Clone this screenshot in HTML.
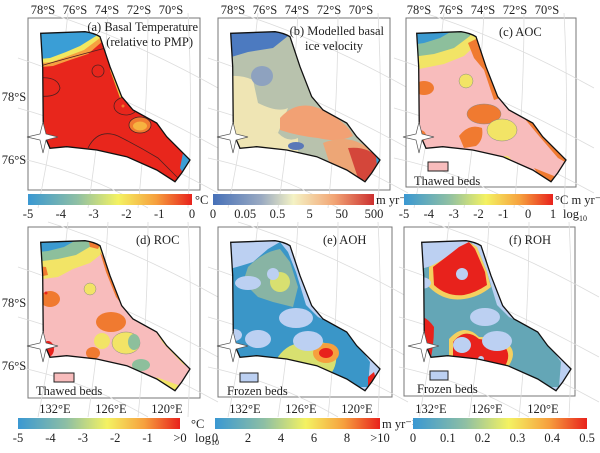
<!DOCTYPE html>
<html><head><meta charset="utf-8"><style>
html,body{margin:0;padding:0;background:#fff;}
svg, svg text, svg tspan{font-family:"Liberation Serif","DejaVu Serif",serif !important;}
svg text{fill:#222;}
</style></head><body>
<svg id="fig" width="600" height="448" viewBox="0 0 600 448" xmlns="http://www.w3.org/2000/svg" font-family="Liberation Serif, serif">
<defs>
<path id="shape" d="M12.7,15.3 L57,13.7 Q66,15 72,18.7 L82,48.7 L93.7,78.7 L105,92 L128.7,105 L138.7,118.7 L158.7,138.7 L162,142 L153.7,155 L147,163.7 L128.7,152 L98.7,138.7 L68.7,132 L38.7,128.7 L22,130.3 L15.3,115 L14.7,48.7 Z"/>
<clipPath id="cl" clipPathUnits="userSpaceOnUse"><use href="#shape"/></clipPath>
<linearGradient id="gStd" x1="0" x2="1" y1="0" y2="0">
<stop offset="0" stop-color="#3a98d2"/><stop offset="0.3" stop-color="#8ebfa4"/><stop offset="0.55" stop-color="#f4f262"/><stop offset="0.78" stop-color="#f6a03e"/><stop offset="1" stop-color="#e8221c"/></linearGradient>
<linearGradient id="gVel" x1="0" x2="1" y1="0" y2="0">
<stop offset="0" stop-color="#4670b8"/><stop offset="0.3" stop-color="#9aaac2"/><stop offset="0.5" stop-color="#f4f2c4"/><stop offset="0.75" stop-color="#f2a676"/><stop offset="1" stop-color="#cc3030"/></linearGradient>
<g id="grat" stroke="#dcdcdc" stroke-width="0.8" fill="none">
<path d="M-10,40 Q80,70 190,130"/><path d="M-10,90 Q80,115 190,175"/><path d="M-10,140 Q60,155 120,190"/><path d="M20,-5 Q100,20 190,70"/>
<path d="M40,-5 Q30,90 10,190"/><path d="M80,-5 Q75,90 60,190"/><path d="M120,-5 Q120,90 110,190"/><path d="M160,-5 Q165,90 160,190"/>
</g>
</defs>

<!-- Panel a -->
<g transform="translate(28,18)">
<rect x="0" y="0" width="172" height="172" fill="#fff" stroke="#777" stroke-width="1"/>
<use href="#grat"/>
<g clip-path="url(#cl)">
<rect x="0" y="0" width="172" height="172" fill="#e8261c"/>
<path d="M0,0 L80,0 L76,22 L60,36 L42,42 L25,48 L0,50Z" fill="#f6a040"/>
<path d="M0,0 L78,0 L72,20 L56,32 L40,38 L24,44 L0,46Z" fill="#f2e860"/>
<path d="M0,0 L75,0 L68,18 L52,28 L38,34 L22,40 L0,42Z" fill="#3a9ed6"/>
<path d="M84,48 L96,80 L92,80 L82,52Z" fill="#f2c040"/>
<path d="M155,135 L165,142 L158,160 L152,150Z" fill="#3a9ed6"/>
<ellipse cx="112" cy="107" rx="11" ry="8" fill="#f07a30" stroke="#502020" stroke-width="0.8"/>
<ellipse cx="112" cy="108" rx="7" ry="4.5" fill="#f6b240"/>
<ellipse cx="98" cy="88" rx="12" ry="9" fill="none" stroke="#502020" stroke-width="0.8"/>
<circle cx="95" cy="88" r="1.5" fill="#f07a30"/>
<ellipse cx="70" cy="53" rx="6" ry="6" fill="none" stroke="#502020" stroke-width="0.8"/>
<path d="M10,60 Q30,58 32,70 Q30,80 10,78" fill="none" stroke="#502020" stroke-width="0.8"/>
<path d="M12,48 Q40,40 70,32 L86,28 Q90,55 95,80 Q110,92 135,110 L150,130" fill="none" stroke="#502020" stroke-width="0.8"/>
<path d="M60,130 Q70,110 90,118 Q110,128 130,140 Q140,150 150,160" fill="none" stroke="#502020" stroke-width="0.8"/>
</g>
<use href="#shape" fill="none" stroke="#111" stroke-width="1.3"/>
<path d="M-1,119 L12,116 L15,104 L18,116 L30,119 L18,122 L15,135 L12,122Z" fill="#fff" stroke="#555" stroke-width="0.7"/>
<text x="170" y="13" text-anchor="end" font-size="12.5">(a) Basal Temperature</text>
<text x="165" y="28" text-anchor="end" font-size="12.5">(relative to PMP)</text>
</g>

<!-- Panel b -->
<g transform="translate(218,18)">
<rect x="0" y="0" width="172" height="172" fill="#fff" stroke="#777" stroke-width="1"/>
<use href="#grat"/>
<g clip-path="url(#cl)">
<rect x="0" y="0" width="172" height="172" fill="#b8c2ad"/>
<path d="M0,60 Q20,55 35,62 L40,85 Q60,95 70,90 L60,115 Q40,112 20,120 L0,140Z" fill="#efe5b4"/>
<path d="M20,120 Q40,110 60,115 Q70,125 80,120 L80,172 L0,172Z" fill="#efe5b4"/>
<path d="M0,0 L72,0 L70,18 L55,30 L30,34 L10,40 L0,40Z" fill="#4c7ac0"/>
<ellipse cx="44" cy="58" rx="11" ry="10" fill="#8ea2bf"/>
<path d="M62,100 Q80,80 105,92 Q130,105 135,118 Q120,125 100,120 Q80,118 62,112Z" fill="#f2a174"/>
<ellipse cx="78" cy="128" rx="8" ry="4" fill="#5a78b8"/>
<path d="M105,125 Q130,115 150,130 L170,172 L120,172Z" fill="#eda676"/>
<path d="M130,130 Q150,128 160,140 L155,165 L140,160Z" fill="#d4463a"/>
<path d="M158,138 L166,144 L160,160Z" fill="#3a9ed6"/>
</g>
<use href="#shape" fill="none" stroke="#111" stroke-width="1.3"/>
<path d="M-1,119 L12,116 L15,104 L18,116 L30,119 L18,122 L15,135 L12,122Z" fill="#fff" stroke="#555" stroke-width="0.7"/>
<text x="166" y="17" text-anchor="end" font-size="12.5">(b) Modelled basal</text>
<text x="145" y="32" text-anchor="end" font-size="12.5">ice velocity</text>
</g>

<!-- Panel c -->
<g transform="translate(404,18)">
<rect x="2" y="0" width="170" height="169" fill="#fff" stroke="#777" stroke-width="1"/>
<use href="#grat"/>
<g clip-path="url(#cl)">
<rect x="0" y="0" width="172" height="172" fill="#f8bcbc"/>
<path d="M0,0 L78,0 L74,25 L60,38 L40,46 L20,50 L0,54Z" fill="#f2e466"/>
<path d="M0,0 L72,0 L66,18 L50,30 L30,36 L0,40Z" fill="#8dbf9c"/>
<path d="M0,0 L55,0 L50,12 L36,20 L20,25 L0,28Z" fill="#3b9ad0"/>
<path d="M64,25 L74,20 L86,50 L96,80 L90,82 L80,52 L70,40Z" fill="#f07a30"/>
<path d="M78,22 L84,20 L95,55 L100,78 L96,80 L86,50Z" fill="#f2e466"/>
<circle cx="62" cy="63" r="7" fill="#f2e466" stroke="#888" stroke-width="0.5"/>
<ellipse cx="20" cy="70" rx="10" ry="7" fill="#f07a30"/>
<ellipse cx="80" cy="96" rx="17" ry="10" fill="#f07a30" stroke="#888" stroke-width="0.5"/>
<ellipse cx="98" cy="112" rx="15" ry="11" fill="#f2e466" stroke="#888" stroke-width="0.5"/>
<path d="M55,118 Q65,105 78,110 Q80,122 72,128 L60,130Z" fill="#f07a30"/>
<circle cx="16" cy="118" r="6" fill="#f07a30"/>
<path d="M120,100 L140,110 L160,135 L163,145 L154,140 L135,118Z" fill="#f07a30"/>
<path d="M130,150 L150,158 L155,165 L140,165Z" fill="#f07a30"/>
<circle cx="102" cy="143" r="5" fill="#f2e466"/>
</g>
<use href="#shape" fill="none" stroke="#111" stroke-width="1.3"/>
<path d="M-1,119 L12,116 L15,104 L18,116 L30,119 L18,122 L15,135 L12,122Z" fill="#fff" stroke="#555" stroke-width="0.7"/>
<text x="95" y="18" font-size="12.5">(c) AOC</text>
<rect x="24" y="144" width="20" height="9" fill="#f8bcbc" stroke="#222" stroke-width="1"/>
<text x="10" y="167" font-size="12.5">Thawed  beds</text>
</g>

<!-- Panel d -->
<g transform="translate(28,227)">
<rect x="0" y="0" width="172" height="171" fill="#fff" stroke="#777" stroke-width="1"/>
<use href="#grat"/>
<g clip-path="url(#cl)">
<rect x="0" y="0" width="172" height="172" fill="#f8bcbc"/>
<path d="M0,0 L80,0 L76,25 L62,36 L45,42 L30,50 L0,54Z" fill="#f2e466"/>
<path d="M0,0 L72,0 L65,18 L48,28 L30,32 L0,36Z" fill="#8dbf9c"/>
<path d="M0,0 L55,0 L50,12 L36,20 L20,24 L0,26Z" fill="#3b9ad0"/>
<path d="M60,10 L75,12 L70,22 L62,20Z" fill="#f07a30"/>
<path d="M0,38 L18,40 L20,48 L0,52Z" fill="#f07a30"/>
<path d="M72,25 L82,40 L95,75 L110,90 L102,88 L88,70 L78,45Z" fill="#f07a30"/>
<path d="M80,25 L86,45 L98,75 L104,82 L96,80 L84,50Z" fill="#f2e466"/>
<circle cx="62" cy="62" r="6" fill="#f2e466" stroke="#888" stroke-width="0.5"/>
<ellipse cx="22" cy="72" rx="10" ry="8" fill="#f07a30"/>
<circle cx="18" cy="66" r="1.5" fill="#e8221c"/>
<ellipse cx="83" cy="95" rx="15" ry="10" fill="#f07a30"/>
<ellipse cx="98" cy="116" rx="14" ry="11" fill="#f2e466" stroke="#888" stroke-width="0.5"/>
<ellipse cx="106" cy="115" rx="6" ry="8" fill="#8dbf9c"/>
<ellipse cx="74" cy="114" rx="8" ry="8" fill="#f2e466"/>
<ellipse cx="65" cy="126" rx="7" ry="6" fill="#f07a30"/>
<ellipse cx="20" cy="122" rx="6" ry="8" fill="#e8221c"/>
<ellipse cx="113" cy="138" rx="9" ry="6" fill="#8dbf9c"/>
<path d="M125,100 L140,110 L160,135 L156,138 L135,116Z" fill="#f2e466"/>
<path d="M128,150 L150,158 L155,165 L140,165Z" fill="#f2e466"/>
</g>
<use href="#shape" fill="none" stroke="#111" stroke-width="1.3"/>
<path d="M-1,119 L12,116 L15,104 L18,116 L30,119 L18,122 L15,135 L12,122Z" fill="#fff" stroke="#555" stroke-width="0.7"/>
<text x="108" y="17" font-size="12.5">(d) ROC</text>
<rect x="26" y="146" width="20" height="9" fill="#f8bcbc" stroke="#222" stroke-width="1"/>
<text x="8" y="168" font-size="12.5">Thawed  beds</text>
</g>

<!-- Panel e -->
<g transform="translate(218,227)">
<rect x="0" y="0" width="174" height="170" fill="#fff" stroke="#777" stroke-width="1"/>
<use href="#grat"/>
<g clip-path="url(#cl)">
<rect x="0" y="0" width="172" height="172" fill="#bcd0f2"/>
<path d="M0,45 Q20,40 35,35 L50,22 L62,15 L70,25 L78,45 L88,78 L100,90 L125,102 L140,118 L152,135 L150,160 L140,160 L120,150 L0,150Z" fill="#3a96c8"/>
<path d="M30,40 Q45,25 62,22 L72,35 L80,60 L75,80 L55,75 L40,70 L25,55Z" fill="#88b4a4"/>
<ellipse cx="62" cy="55" rx="10" ry="10" fill="#d8e070"/>
<path d="M60,130 Q70,115 90,115 Q110,112 118,125 Q120,140 110,150 L60,150Z" fill="#d8e070"/>
<ellipse cx="108" cy="126" rx="13" ry="10" fill="#f6a03e"/>
<ellipse cx="108" cy="126" rx="7" ry="5" fill="#e8221c"/>
<circle cx="55" cy="47" r="6" fill="#bcd0f2"/>
<ellipse cx="30" cy="56" rx="13" ry="7" fill="#bcd0f2"/>
<ellipse cx="78" cy="91" rx="17" ry="10" fill="#bcd0f2"/>
<ellipse cx="90" cy="114" rx="15" ry="10" fill="#bcd0f2"/>
<ellipse cx="40" cy="112" rx="13" ry="9" fill="#bcd0f2"/>
<ellipse cx="16" cy="108" rx="8" ry="6" fill="#bcd0f2"/>
<path d="M150,150 L156,145 L160,160 L150,165Z" fill="#e8221c"/>
</g>
<use href="#shape" fill="none" stroke="#111" stroke-width="1.3"/>
<path d="M-1,119 L12,116 L15,104 L18,116 L30,119 L18,122 L15,135 L12,122Z" fill="#fff" stroke="#555" stroke-width="0.7"/>
<text x="105" y="17" font-size="12.5">(e) AOH</text>
<rect x="22" y="146" width="18" height="9" fill="#bcd0f2" stroke="#222" stroke-width="1"/>
<text x="9" y="168" font-size="12.5">Frozen beds</text>
</g>

<!-- Panel f -->
<g transform="translate(404,227)">
<rect x="0" y="0" width="171" height="169" fill="#fff" stroke="#777" stroke-width="1"/>
<g transform="translate(5,0)">
<use href="#grat"/>
<g clip-path="url(#cl)">
<rect x="0" y="0" width="172" height="172" fill="#bcd0f2"/>
<path d="M0,45 Q20,40 35,35 L50,22 L62,15 L70,25 L78,45 L88,78 L100,90 L125,102 L140,118 L152,135 L150,160 L140,160 L120,150 L0,150Z" fill="#64a6b6"/>
<path d="M20,40 Q40,30 50,20 L60,15 L68,20 L78,45 L82,60 Q70,70 55,72 Q35,75 20,60Z" fill="#f4d060"/>
<path d="M24,40 Q40,28 50,20 L60,15 L66,22 L76,45 L78,58 Q66,66 55,68 Q38,70 25,58Z" fill="#e8221c"/>
<path d="M0,90 Q15,85 25,100 Q25,120 20,140 L0,140Z" fill="#e8221c"/>
<path d="M40,112 Q55,95 70,110 Q90,110 100,118 Q110,128 95,145 L40,145Z" fill="#f4d060"/>
<path d="M44,115 Q56,100 70,112 Q88,114 96,120 Q104,130 92,145 L44,145Z" fill="#e8221c"/>
<circle cx="53" cy="47" r="6" fill="#bcd0f2"/>
<ellipse cx="12" cy="56" rx="10" ry="6" fill="#bcd0f2"/>
<ellipse cx="76" cy="90" rx="15" ry="9" fill="#bcd0f2"/>
<ellipse cx="88" cy="114" rx="15" ry="10" fill="#bcd0f2"/>
<ellipse cx="53" cy="118" rx="9" ry="8" fill="#bcd0f2"/>
<circle cx="72" cy="132" r="3" fill="#bcd0f2"/>
</g>
<use href="#shape" fill="none" stroke="#111" stroke-width="1.3"/>
<path d="M-1,119 L12,116 L15,104 L18,116 L30,119 L18,122 L15,135 L12,122Z" fill="#fff" stroke="#555" stroke-width="0.7"/>
</g>
<text x="105" y="17" font-size="12.5">(f) ROH</text>
<rect x="26" y="144" width="18" height="9" fill="#bcd0f2" stroke="#222" stroke-width="1"/>
<text x="13" y="166" font-size="12.5">Frozen beds</text>
</g>

<g id="labels" font-size="12.5"></g>
<g id="cbars"></g>
</svg>
<script>
const latLabels = ["78°S","76°S","74°S","72°S","70°S"];
const lonLabels = ["132°E","126°E","120°E"];
const tickA = ["-5","-4","-3","-2","-1","0"];
const tickB = ["0","0.05","0.5","5","50","500"];
const tickC = ["-5","-4","-3","-2","-1","0","1"];
const tickD = ["-5","-4","-3","-2","-1",">0"];
const tickE = ["0","2","4","6","8",">10"];
const tickF = ["0","0.1","0.2","0.3","0.4","0.5"];
const NS="http://www.w3.org/2000/svg";
const lab=document.getElementById('labels'), cb=document.getElementById('cbars');
function txt(parent,x,y,s,anchor,size){const t=document.createElementNS(NS,'text');t.setAttribute('x',x);t.setAttribute('y',y);t.setAttribute('text-anchor',anchor||'middle');t.setAttribute('font-size',size||12.5);t.setAttribute('font-family','Liberation Serif, serif');t.textContent=s;parent.appendChild(t);return t;}
[28,218,404].forEach(function(px){
  latLabels.forEach(function(s,i){
    const t=txt(lab,px+15+i*32,14,s);
    
    
  });
});
[[101,164],[307,370]].forEach(function(o){
  const a=txt(lab,14,o[0],"78°S");
  
  
  const b=txt(lab,14,o[1],"76°S");
  
  
});
[28,218,404].forEach(function(px){
  lonLabels.forEach(function(s,i){
    const t=txt(lab,px+27+i*56,413,s);
    
    
  });
});
function colorbar(x0,x1,y,grad,ticks,unit,unitX,log,name){
  const r=document.createElementNS(NS,'rect');
  r.setAttribute('x',x0);r.setAttribute('y',y);r.setAttribute('width',x1-x0);r.setAttribute('height',11);
  r.setAttribute('fill','url(#'+grad+')');
  
  
  cb.appendChild(r);
  ticks.forEach(function(s,i){
    const t=txt(cb,x0+(x1-x0)*i/(ticks.length-1),y+24,s);
    
    
  });
  const u=txt(cb,unitX,y+10,unit,'start');
  
  
  if(log){const l=txt(cb,log[0],log[1],'log');const s=document.createElementNS(NS,'tspan');s.setAttribute('font-size',8);s.setAttribute('dy',3);s.textContent='10';l.appendChild(s);
    
    }
}
colorbar(28,192,194,'gStd',tickA,'°C',195,null,'colorbar-a');
colorbar(213,374,194,'gVel',tickB,'m yr⁻¹',376,null,'colorbar-b');
colorbar(404,553,194,'gStd',tickC,'°C m yr⁻¹',555,[575,218],'colorbar-c');
colorbar(18,180,418,'gStd',tickD,'°C',191,[207,442],'colorbar-d');
colorbar(215,380,418,'gStd',tickE,'m yr⁻¹',382,null,'colorbar-e');
colorbar(413,587,418,'gStd',tickF,'',590,null,'colorbar-f');
</script>
</body></html>
